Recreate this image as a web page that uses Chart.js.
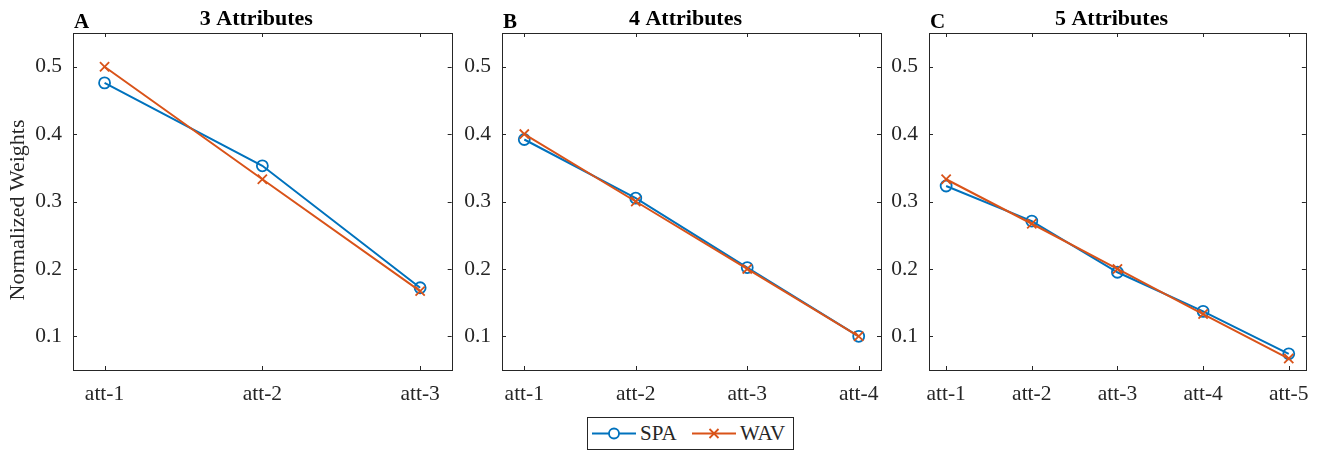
<!DOCTYPE html>
<html>
<head>
<meta charset="utf-8">
<script src="https://cdn.jsdelivr.net/npm/chart.js@4"></script>
<style>
  html, body { margin: 0; padding: 0; background: #fff; }
  #wrap { position: relative; width: 1320px; height: 450px; overflow: hidden; background: #fff; }
  canvas { position: absolute; top: 0; }
  #legend { position: absolute; box-sizing: border-box; border: 1px solid #262626; background: #fff;
            font-family: "Liberation Serif", "Times New Roman", serif; font-size: 21px; color: #262626; }
  #legend svg { position: absolute; top: 0; }
  #legend span { position: absolute; top: 3px; line-height: 24px; white-space: nowrap; }
</style>
</head>
<body>
<div id="wrap">
  <canvas id="cA"></canvas>
  <canvas id="cB"></canvas>
  <canvas id="cC"></canvas>
  <div id="legend"></div>
</div>
<script>
// ---------------- data ----------------
const seriesNames = ['SPA', 'WAV'];
const seriesColors = ['#0072BD', '#D95319'];
const panelTitles = ['3 Attributes', '4 Attributes', '5 Attributes'];
const panelLetters = ['A', 'B', 'C'];
const yAxisLabel = 'Normalized Weights';
const yTickValues = [0.1, 0.2, 0.3, 0.4, 0.5];

const cats3 = ['att-1', 'att-2', 'att-3'];
const spa3 = [0.476, 0.353, 0.172];
const wav3 = [0.500, 0.333, 0.167];

const cats4 = ['att-1', 'att-2', 'att-3', 'att-4'];
const spa4 = [0.392, 0.305, 0.202, 0.100];
const wav4 = [0.400, 0.300, 0.200, 0.100];

const cats5 = ['att-1', 'att-2', 'att-3', 'att-4', 'att-5'];
const spa5 = [0.323, 0.271, 0.195, 0.137, 0.074];
const wav5 = [0.333, 0.267, 0.200, 0.133, 0.067];

// ---------------- styling / layout ----------------
const FONT = '"Liberation Serif", "Times New Roman", serif';
const AXIS_COLOR = '#262626';
const TOP = 33, XAXIS_H = 80, H = 450;
const TICK_FONT = 21.5;

const panels = [
  { id: 'cA', left: 0,   width: 460, yw: 73, rp: 7,  cats: cats3, spa: spa3, wav: wav3, ylabel: true },
  { id: 'cB', left: 460, width: 430, yw: 42, rp: 9,  cats: cats4, spa: spa4, wav: wav4, ylabel: false },
  { id: 'cC', left: 890, width: 430, yw: 39, rp: 12, cats: cats5, spa: spa5, wav: wav5, ylabel: false }
];

const framePlugin = {
  id: 'frame',
  afterDraw(chart, args, opts) {
    const ctx = chart.ctx;
    const a = chart.chartArea;
    const xs = chart.scales.x, ys = chart.scales.y;
    ctx.save();
    ctx.strokeStyle = AXIS_COLOR;
    ctx.lineWidth = 1;
    ctx.strokeRect(Math.round(a.left) + 0.5, Math.round(a.top) + 0.5,
                   Math.round(a.right - a.left), Math.round(a.bottom - a.top));
    const TL = 4;
    ctx.beginPath();
    xs.ticks.forEach(t => {
      const px = Math.round(xs.getPixelForValue(t.value)) + 0.5;
      ctx.moveTo(px, a.bottom); ctx.lineTo(px, a.bottom - TL);
      ctx.moveTo(px, a.top); ctx.lineTo(px, a.top + TL);
    });
    ys.ticks.forEach(t => {
      const py = Math.round(ys.getPixelForValue(t.value)) + 0.5;
      ctx.moveTo(a.left, py); ctx.lineTo(a.left + TL, py);
      ctx.moveTo(a.right, py); ctx.lineTo(a.right - TL, py);
    });
    ctx.stroke();

    // title and panel letter
    ctx.fillStyle = '#000';
    ctx.font = 'bold 22px ' + FONT;
    ctx.textAlign = 'center';
    ctx.textBaseline = 'alphabetic';
    ctx.fillText(opts.title, (a.left + a.right) / 2 - 6, 25);
    ctx.font = 'bold 21px ' + FONT;
    ctx.textAlign = 'left';
    ctx.fillText(opts.letter, a.left + 1, 28);

    if (opts.ylabel) {
      ctx.fillStyle = AXIS_COLOR;
      ctx.font = '22px ' + FONT;
      ctx.translate(18, 210);
      ctx.rotate(-Math.PI / 2);
      ctx.textAlign = 'center';
      ctx.textBaseline = 'middle';
      ctx.fillText(opts.ylabel, 0, 0);
    }
    ctx.restore();
  }
};

panels.forEach((p, idx) => {
  const cv = document.getElementById(p.id);
  cv.style.left = p.left + 'px';
  cv.width = p.width; cv.height = H;
  cv.style.width = p.width + 'px'; cv.style.height = H + 'px';

  const toPts = arr => arr.map((v, i) => ({ x: i + 1, y: v }));
  const datasets = [
    { label: seriesNames[0], data: toPts(p.spa), borderColor: seriesColors[0],
      pointStyle: 'circle', pointRadius: 5.5, pointBorderWidth: 1.8,
      pointBackgroundColor: 'rgba(0,0,0,0)', pointBorderColor: seriesColors[0],
      borderWidth: 2, order: 1 },
    { label: seriesNames[1], data: toPts(p.wav), borderColor: seriesColors[1],
      pointStyle: 'crossRot', pointRadius: 6.5, pointBorderWidth: 1.8,
      pointBackgroundColor: 'rgba(0,0,0,0)', pointBorderColor: seriesColors[1],
      borderWidth: 2, order: 0 }
  ];

  new Chart(cv, {
    type: 'line',
    data: { datasets },
    options: {
      responsive: false,
      animation: false,
      devicePixelRatio: 1,
      layout: { padding: { top: TOP, right: p.rp, left: 0, bottom: 0 } },
      plugins: {
        legend: { display: false },
        tooltip: { enabled: false },
        frame: { title: panelTitles[idx], letter: panelLetters[idx], ylabel: p.ylabel ? yAxisLabel : null }
      },
      elements: { line: { tension: 0 } },
      scales: {
        x: {
          type: 'linear', min: 0.8, max: p.cats.length + 0.2,
          grid: { display: false, drawTicks: false },
          border: { display: false },
          afterBuildTicks: s => { s.ticks = p.cats.map((c, i) => ({ value: i + 1 })); },
          afterFit: s => { s.height = XAXIS_H; },
          ticks: {
            autoSkip: false, maxRotation: 0, padding: 11, color: AXIS_COLOR,
            font: { family: FONT, size: TICK_FONT },
            callback: v => p.cats[Math.round(v) - 1]
          }
        },
        y: {
          type: 'linear', min: 0.05, max: 0.55,
          grid: { display: false, drawTicks: false },
          border: { display: false },
          afterBuildTicks: s => { s.ticks = yTickValues.map(v => ({ value: v })); },
          afterFit: s => { s.width = p.yw; },
          ticks: {
            padding: 11, color: AXIS_COLOR,
            font: { family: FONT, size: TICK_FONT },
            callback: v => Number(v).toFixed(1)
          }
        }
      }
    },
    plugins: [framePlugin]
  });
});

// ---------------- legend (HTML) ----------------
(function buildLegend() {
  const lg = document.getElementById('legend');
  lg.style.left = '587px'; lg.style.top = '417px';
  lg.style.width = '207px'; lg.style.height = '33px';
  const itemX = [4, 104];
  seriesNames.forEach((name, i) => {
    const col = seriesColors[i];
    const ns = 'http://www.w3.org/2000/svg';
    const svg = document.createElementNS(ns, 'svg');
    svg.setAttribute('width', '46'); svg.setAttribute('height', '31');
    svg.style.left = itemX[i] + 'px';
    const ln = document.createElementNS(ns, 'line');
    ln.setAttribute('x1', '0'); ln.setAttribute('x2', '44');
    ln.setAttribute('y1', '15.5'); ln.setAttribute('y2', '15.5');
    ln.setAttribute('stroke', col); ln.setAttribute('stroke-width', '2');
    svg.appendChild(ln);
    if (i === 0) {
      const c = document.createElementNS(ns, 'circle');
      c.setAttribute('cx', '22'); c.setAttribute('cy', '15.5'); c.setAttribute('r', '5');
      c.setAttribute('fill', '#fff'); c.setAttribute('stroke', col); c.setAttribute('stroke-width', '1.8');
      svg.appendChild(c);
    } else {
      const pth = document.createElementNS(ns, 'path');
      pth.setAttribute('d', 'M17.5 11 L26.5 20 M26.5 11 L17.5 20');
      pth.setAttribute('stroke', col); pth.setAttribute('stroke-width', '1.8');
      svg.appendChild(pth);
    }
    lg.appendChild(svg);
    const sp = document.createElement('span');
    sp.textContent = name;
    sp.style.left = (itemX[i] + 48) + 'px';
    lg.appendChild(sp);
  });
})();
</script>
</body>
</html>
